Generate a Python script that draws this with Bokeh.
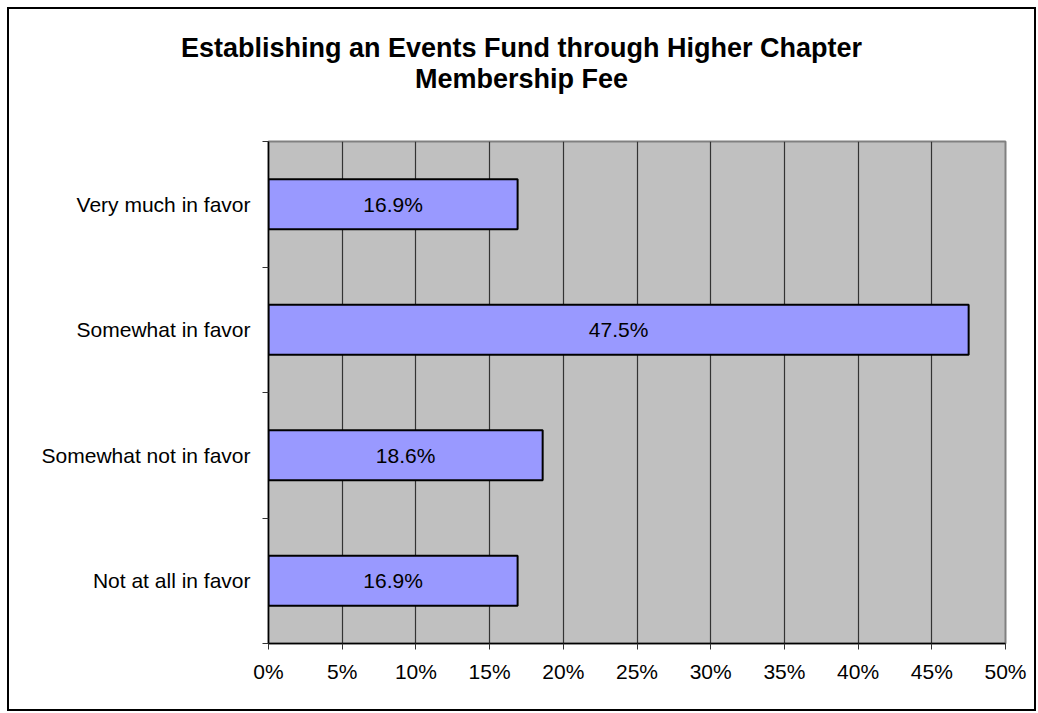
from bokeh.plotting import figure
from bokeh.layouts import column
from bokeh.models import (FixedTicker, NumeralTickFormatter, Range1d,
                          ColumnDataSource, LinearAxis, Div)
from bokeh.core.properties import value
from bokeh.embed import file_html
from bokeh.resources import INLINE

title_lines = ["Establishing an Events Fund through Higher Chapter", "Membership Fee"]
categories = ["Very much in favor", "Somewhat in favor",
              "Somewhat not in favor", "Not at all in favor"]
percent = [16.9, 47.5, 18.6, 16.9]
x_ticks = [0, 5, 10, 15, 20, 25, 30, 35, 40, 45, 50]

FONT = "Liberation Sans"
n = len(categories)
ypos = [n - 0.5 - i for i in range(n)]
frac = [v / 100 for v in percent]
src = ColumnDataSource(dict(
    y=ypos, right=frac, mid=[f / 2 for f in frac],
    lab=["%.1f%%" % v for v in percent]))

W = 1025
TH = 128          # title block height
H = 572
ML, MR, MT, MB = 259, 29, 4, 66

title_div = Div(
    text=("<div style=\"display:block; width:1008px; padding-top:24px; padding-left:17px; "
          "text-align:center; font-family:'Liberation Sans'; font-weight:bold; "
          "font-size:27px; line-height:31px; color:black; white-space:nowrap;\">"
          + "<br>".join(title_lines) + "</div>"),
    width=W, height=TH, margin=0)

p = figure(width=W, height=H, output_backend="svg", toolbar_location=None,
           title_location=None,
           x_range=Range1d(0, x_ticks[-1] / 100), y_range=Range1d(0, n),
           y_axis_type=None, min_border_left=ML, min_border_right=MR,
           min_border_top=MT, min_border_bottom=MB)

p.background_fill_color = "#C0C0C0"
p.border_fill_color = "white"
p.outline_line_color = "#808080"
p.outline_line_width = 2

p.hbar(y="y", left=0, right="right", height=0.4, source=src,
       fill_color="#9999FF", line_color="black", line_width=2)
p.text(x="mid", y="y", text="lab", source=src, text_align="center",
       text_baseline="middle", text_font=value(FONT),
       text_font_size=value("21px"), text_color="black")

xt = FixedTicker(ticks=[t / 100 for t in x_ticks])
p.xaxis.ticker = xt
p.xaxis.formatter = NumeralTickFormatter(format="0%")
p.xaxis.axis_line_color = "black"
p.xaxis.axis_line_width = 1.5
p.xaxis.major_tick_out = 6
p.xaxis.major_tick_in = 0
p.xaxis.major_tick_line_color = "#333333"
p.xaxis.minor_tick_line_color = None
p.xaxis.major_label_text_font = FONT
p.xaxis.major_label_text_font_size = "21px"
p.xaxis.major_label_text_color = "black"
p.xaxis.major_label_standoff = 10

p.xgrid.ticker = xt
p.xgrid.grid_line_color = "#333333"
p.xgrid.grid_line_width = 1.2
p.ygrid.visible = False

yt = FixedTicker(ticks=ypos, minor_ticks=list(range(n + 1)))
yaxis = LinearAxis(ticker=yt)
yaxis.major_label_overrides = {yv: c for yv, c in zip(ypos, categories)}
yaxis.axis_line_color = "black"
yaxis.axis_line_width = 1.5
yaxis.major_tick_out = 0
yaxis.major_tick_in = 0
yaxis.minor_tick_out = 6
yaxis.minor_tick_in = 0
yaxis.minor_tick_line_color = "#333333"
yaxis.major_label_text_font = FONT
yaxis.major_label_text_font_size = "21px"
yaxis.major_label_text_color = "black"
yaxis.major_label_standoff = 12
p.add_layout(yaxis, "left")

layout = column(title_div, p, spacing=0)
layout.styles = {"border": "2px solid black", "margin": "7px", "background": "white"}

open("out.html", "w").write(file_html(layout, INLINE))
